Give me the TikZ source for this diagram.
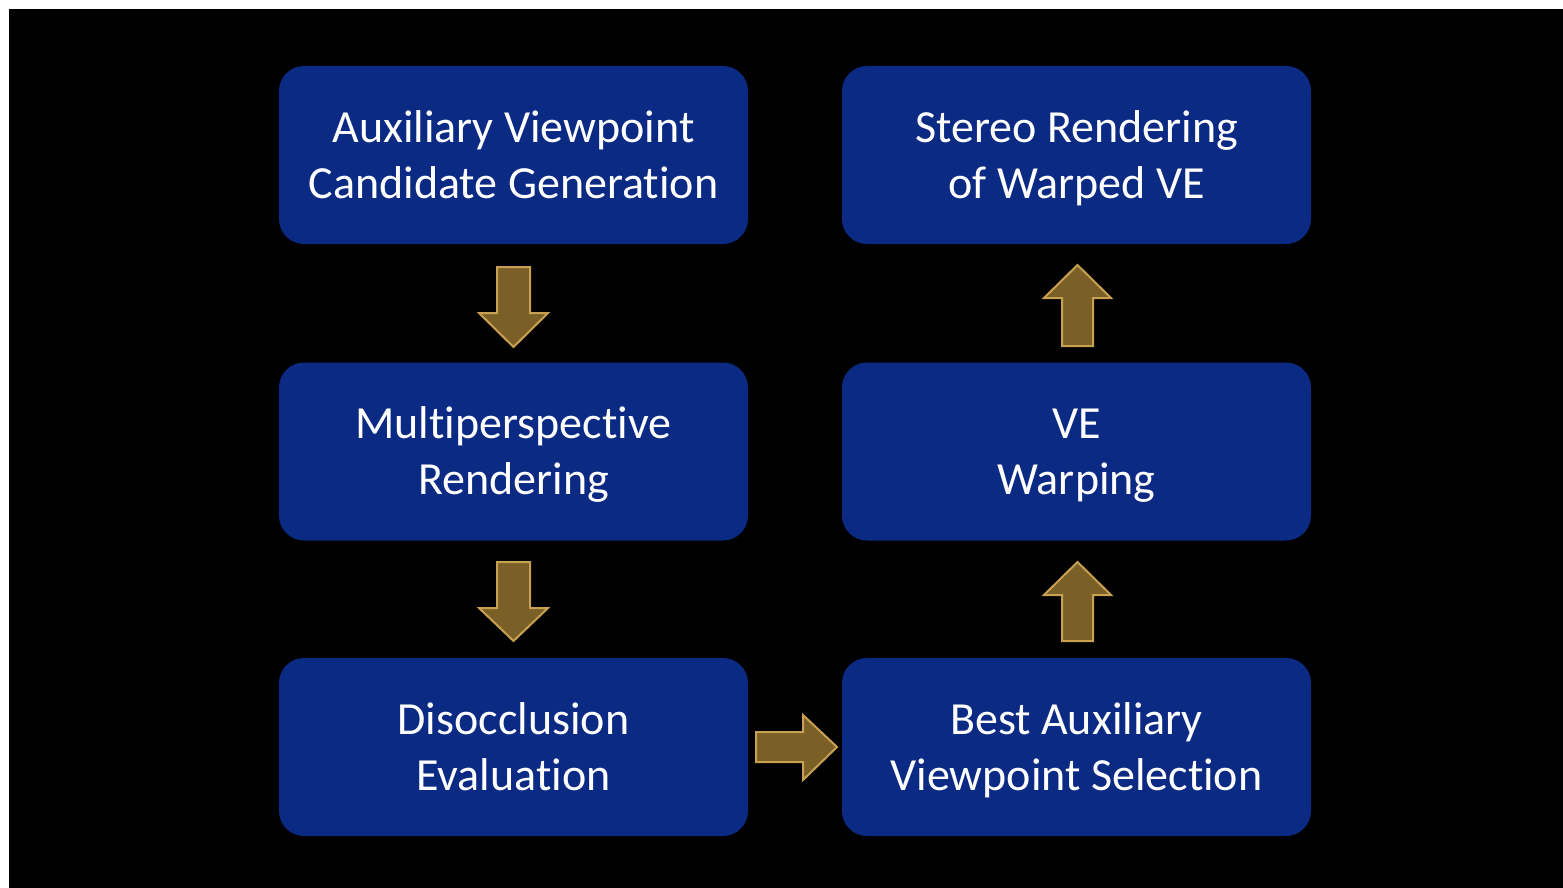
\documentclass[tikz,border=0pt]{standalone}
\usepackage{fontspec}
\setmainfont[Ligatures={NoCommon}]{Carlito}
\definecolor{boxblue}{RGB}{11,42,132}
\definecolor{arrowfill}{RGB}{122,96,38}
\definecolor{arrowedge}{RGB}{200,160,82}
\newcommand{\twolines}[2]{\rule{0pt}{47pt}#1\\\strut#2}
\begin{document}
\begin{tikzpicture}[x=1pt,y=-1pt,
  stepbox/.style={rectangle, rounded corners=25pt, fill=boxblue, draw=none,
    minimum width=469pt, minimum height=178pt, align=center, text=white,
    font=\fontsize{46pt}{56pt}\selectfont, inner sep=0pt},
  blockarrow/.style={fill=arrowfill, draw=arrowedge, line width=2pt, line join=miter}]
\useasboundingbox (0,0) rectangle (1563,888);
\fill[white] (0,0) rectangle (1563,888);
\fill[black] (9,9) rectangle (1563,888);
\node[stepbox] (a) at (513.5,155) {\twolines{Auxiliary Viewpoint}{Candidate Generation}};
\node[stepbox] (b) at (513.5,451.5) {\twolines{Multiperspective}{Rendering}};
\node[stepbox] (c) at (513.5,747) {\twolines{Disocclusion}{Evaluation}};
\node[stepbox] (d) at (1076.5,747) {\twolines{Best Auxiliary}{Viewpoint Selection}};
\node[stepbox] (e) at (1076.5,451.5) {\twolines{VE}{Warping}};
\node[stepbox] (f) at (1076.5,155) {\twolines{Stereo Rendering}{of Warped VE}};
% a -> b
\draw[blockarrow] (497,267) -- (530,267) -- (530,313) -- (548,313) -- (513.5,347) -- (479,313) -- (497,313) -- cycle;
% b -> c
\draw[blockarrow] (497,562) -- (530,562) -- (530,608) -- (548,608) -- (513.5,641) -- (479,608) -- (497,608) -- cycle;
% c -> d
\draw[blockarrow] (756,732) -- (803,732) -- (803,715) -- (837,747) -- (803,780) -- (803,762) -- (756,762) -- cycle;
% d -> e
\draw[blockarrow] (1062,641) -- (1093,641) -- (1093,595) -- (1111,595) -- (1077.5,562) -- (1044,595) -- (1062,595) -- cycle;
% e -> f
\draw[blockarrow] (1062,346) -- (1093,346) -- (1093,298) -- (1111,298) -- (1077.5,265) -- (1044,298) -- (1062,298) -- cycle;
\end{tikzpicture}
\end{document}
